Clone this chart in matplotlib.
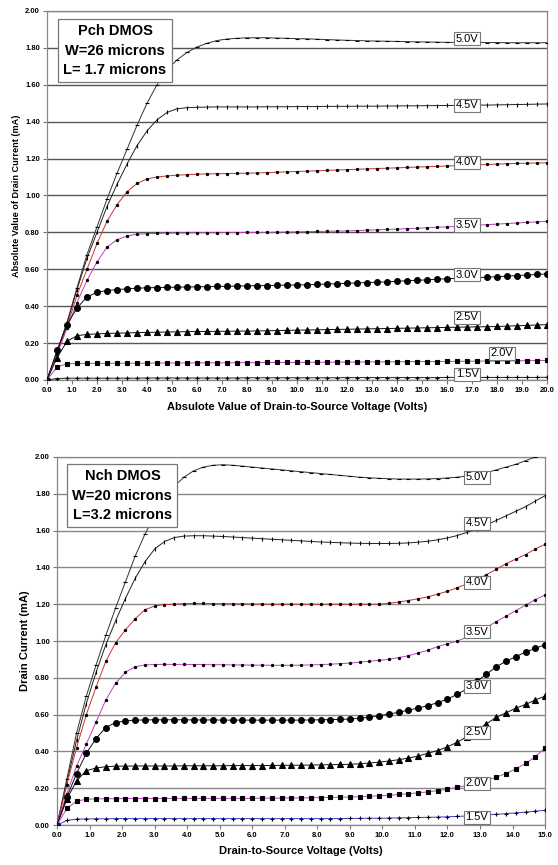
"""Pch / Nch DMOS output characteristics (Id vs Vds at several Vgs)."""
import numpy as np
import matplotlib
matplotlib.use("Agg")
import matplotlib.pyplot as plt
plt.rcParams["text.parse_math"] = False
plt.rcParams["font.family"] = ["Liberation Sans", "DejaVu Sans"]

# ---- Pch DMOS: |Vds| sweep 0..20 V, step 0.4 V ----
VDS_P = np.round(np.arange(0, 20.01, 0.4), 1)
VGS = ["5.0V", "4.5V", "4.0V", "3.5V", "3.0V", "2.5V", "2.0V", "1.5V"]

P_50 = [0, .15, .31, .50, .68, .83, .98, 1.12, 1.25, 1.38,
        1.50, 1.60, 1.68, 1.735, 1.775, 1.805, 1.825, 1.84, 1.848, 1.852,
        1.855, 1.855, 1.855, 1.853, 1.852, 1.85, 1.849, 1.847, 1.845, 1.843,
        1.841, 1.84, 1.838, 1.837, 1.836, 1.835, 1.834, 1.833, 1.832, 1.831,
        1.83, 1.83, 1.83, 1.829, 1.829, 1.829, 1.828, 1.828, 1.828, 1.828,
        1.828]
P_45 = [0, .15, .31, .49, .66, .80, .94, 1.06, 1.17, 1.27,
        1.35, 1.41, 1.45, 1.47, 1.476, 1.478, 1.479, 1.48, 1.48, 1.48,
        1.48, 1.48, 1.481, 1.481, 1.481, 1.482, 1.482, 1.482, 1.483, 1.483,
        1.483, 1.484, 1.484, 1.484, 1.485, 1.485, 1.486, 1.486, 1.487, 1.487,
        1.488, 1.488, 1.489, 1.49, 1.49, 1.491, 1.492, 1.493, 1.494, 1.495,
        1.496]
P_40 = [0, .14, .29, .46, .60, .74, .86, .95, 1.02, 1.065,
        1.09, 1.10, 1.106, 1.11, 1.113, 1.115, 1.117, 1.118, 1.119, 1.12,
        1.121, 1.122, 1.124, 1.126, 1.128, 1.13, 1.132, 1.134, 1.136, 1.138,
        1.14, 1.142, 1.144, 1.146, 1.148, 1.15, 1.152, 1.154, 1.156, 1.158,
        1.16, 1.162, 1.164, 1.166, 1.168, 1.17, 1.172, 1.174, 1.175, 1.176,
        1.177]
P_35 = [0, .14, .28, .42, .54, .64, .72, .76, .78, .79,
        .793, .795, .796, .797, .797, .798, .798, .798, .799, .799,
        .80, .80, .80, .801, .802, .803, .804, .805, .806, .807,
        .808, .81, .812, .814, .816, .818, .82, .822, .825, .828,
        .83, .833, .836, .839, .842, .845, .848, .851, .854, .857,
        .86]
P_30 = [0, .16, .30, .39, .45, .475, .485, .49, .494, .497,
        .50, .501, .502, .503, .504, .505, .506, .507, .508, .509,
        .51, .511, .512, .513, .514, .515, .516, .518, .52, .522,
        .524, .526, .528, .53, .532, .535, .538, .54, .543, .546,
        .549, .551, .553, .555, .557, .56, .563, .566, .569, .572,
        .575]
P_25 = [0, .12, .21, .24, .247, .25, .252, .254, .255, .257,
        .258, .259, .26, .261, .262, .263, .263, .264, .264, .265,
        .265, .266, .267, .268, .269, .27, .271, .272, .273, .274,
        .275, .276, .277, .278, .279, .28, .281, .282, .283, .284,
        .285, .286, .287, .288, .289, .29, .292, .294, .296, .298,
        .30]
P_20 = [0, .07, .088, .09, .09, .09, .09, .091, .091, .091,
        .091, .092, .092, .092, .092, .093, .093, .093, .093, .094,
        .094, .094, .095, .095, .095, .095, .096, .096, .096, .097,
        .097, .097, .098, .098, .098, .099, .099, .10, .10, .10,
        .101, .101, .102, .102, .103, .103, .104, .104, .105, .105,
        .106]
P_15 = [0, .008, .01, .01, .01, .01, .01, .01, .01, .01,
        .011, .011, .011, .011, .011, .011, .011, .011, .011, .011,
        .012, .012, .012, .012, .012, .012, .012, .012, .012, .012,
        .013, .013, .013, .013, .013, .013, .013, .013, .013, .013,
        .014, .014, .014, .014, .014, .014, .014, .014, .014, .014,
        .015]

# label anchor points (Vds, Id) for the Pch plot
P_LAB_X = [16.8, 16.8, 16.8, 16.8, 16.8, 16.8, 18.2, 16.8]
P_LAB_Y = [1.85, 1.49, 1.18, 0.84, 0.57, 0.34, 0.146, 0.032]

# ---- Nch DMOS: Vds sweep 0..15 V, step 0.3 V ----
VDS_N = np.round(np.arange(0, 15.01, 0.3), 1)

N_50 = [0, .25, .50, .70, .87, 1.03, 1.18, 1.32, 1.46, 1.58,
        1.68, 1.77, 1.84, 1.89, 1.925, 1.945, 1.955, 1.958, 1.955, 1.95,
        1.945, 1.94, 1.935, 1.93, 1.925, 1.92, 1.915, 1.91, 1.905, 1.90,
        1.895, 1.89, 1.887, 1.884, 1.882, 1.88, 1.88, 1.88, 1.881, 1.883,
        1.886, 1.89, 1.897, 1.905, 1.915, 1.93, 1.945, 1.96, 1.98, 2.0,
        2.03]
N_45 = [0, .23, .46, .66, .83, .98, 1.11, 1.23, 1.34, 1.43,
        1.50, 1.54, 1.562, 1.57, 1.572, 1.572, 1.57, 1.568, 1.565, 1.562,
        1.559, 1.556, 1.553, 1.55, 1.547, 1.544, 1.541, 1.538, 1.536, 1.534,
        1.532, 1.531, 1.53, 1.53, 1.53, 1.531, 1.533, 1.537, 1.542, 1.55,
        1.56, 1.573, 1.59, 1.61, 1.632, 1.655, 1.68, 1.705, 1.73, 1.76,
        1.79]
N_40 = [0, .22, .42, .60, .75, .89, .99, 1.06, 1.12, 1.17,
        1.19, 1.198, 1.20, 1.203, 1.204, 1.204, 1.203, 1.203, 1.202, 1.202,
        1.201, 1.201, 1.20, 1.20, 1.20, 1.20, 1.20, 1.20, 1.20, 1.20,
        1.20, 1.20, 1.20, 1.20, 1.205, 1.212, 1.22, 1.23, 1.24, 1.255,
        1.27, 1.29, 1.31, 1.335, 1.36, 1.39, 1.42, 1.445, 1.47, 1.50,
        1.525]
N_35 = [0, .17, .32, .44, .56, .68, .77, .83, .86, .87,
        .872, .873, .873, .873, .872, .872, .871, .871, .87, .87,
        .869, .869, .868, .868, .868, .869, .87, .872, .874, .877,
        .88, .885, .89, .895, .90, .91, .92, .935, .95, .97,
        .985, 1.0, 1.02, 1.045, 1.075, 1.105, 1.135, 1.165, 1.195, 1.225,
        1.25]
N_30 = [0, .15, .28, .39, .47, .53, .557, .566, .57, .571,
        .572, .572, .572, .572, .571, .571, .571, .57, .57, .57,
        .57, .57, .57, .57, .57, .57, .571, .572, .573, .574,
        .576, .58, .586, .594, .603, .613, .624, .636, .649, .665,
        .685, .71, .74, .78, .82, .86, .89, .915, .94, .96,
        .98]
N_25 = [0, .14, .24, .295, .31, .317, .32, .32, .321, .321,
        .321, .321, .321, .322, .322, .322, .322, .322, .323, .323,
        .323, .323, .324, .324, .325, .325, .326, .327, .328, .329,
        .33, .333, .337, .342, .348, .355, .364, .375, .39, .405,
        .425, .45, .48, .515, .55, .585, .61, .635, .655, .68,
        .70]
N_20 = [0, .09, .13, .14, .142, .143, .143, .144, .144, .144,
        .144, .144, .145, .145, .145, .145, .145, .145, .145, .145,
        .145, .146, .146, .146, .147, .147, .148, .149, .15, .151,
        .152, .154, .156, .159, .162, .166, .17, .175, .18, .187,
        .195, .205, .215, .228, .243, .26, .28, .305, .335, .37,
        .42]
N_15 = [0, .025, .032, .033, .034, .034, .035, .035, .035, .035,
        .035, .035, .035, .035, .035, .035, .035, .035, .035, .035,
        .035, .035, .035, .035, .035, .035, .035, .035, .035, .035,
        .036, .036, .037, .037, .038, .039, .04, .041, .042, .043,
        .045, .047, .049, .052, .055, .058, .062, .066, .07, .075,
        .08]

N_LAB_X = [12.9] * 8
N_LAB_Y = [1.89, 1.64, 1.32, 1.05, 0.755, 0.505, 0.228, 0.043]

# line colour, marker, marker size for each Vgs curve
STYLES = [
    ("#333333", "_", 3.0),
    ("#222222", "|", 3.5),
    ("#d03030", "o", 1.6),
    ("#c040c0", "o", 1.6),
    ("#111111", "o", 4.2),
    ("#111111", "^", 4.0),
    ("#c040c0", "s", 2.2),
    ("#3a3ad0", "+", 2.8),
]


def draw(ax, vds, curves, lab_x, lab_y, xmax, grid_col, styles):
    for (col, mk, ms), ids in zip(styles, curves):
        ax.plot(vds, ids, color=col, lw=0.7, marker=mk, ms=ms,
                mfc="black", mec="black", mew=0.8, zorder=3)
    for name, x, y in zip(VGS, lab_x, lab_y):
        ax.text(x, y, name, ha="center", va="center", fontsize=8, zorder=5,
                bbox=dict(boxstyle="square,pad=0.14", fc="white", ec="#777777", lw=0.8))
    ax.set_xlim(0, xmax)
    ax.set_ylim(0, 2.0)
    ax.set_xticks(np.arange(0, xmax + 0.01, 1.0))
    ax.set_yticks(np.arange(0, 2.01, 0.2))
    ax.xaxis.set_major_formatter(matplotlib.ticker.FormatStrFormatter("%.1f"))
    ax.yaxis.set_major_formatter(matplotlib.ticker.FormatStrFormatter("%.2f"))
    ax.tick_params(labelsize=5.5, length=3, width=0.8, color="#777777", pad=2)
    for lab in ax.get_xticklabels() + ax.get_yticklabels():
        lab.set_fontweight("bold")
    ax.grid(axis="y", color=grid_col, lw=1.0, zorder=1)
    for sp in ax.spines.values():
        sp.set_color("#888888")
        sp.set_linewidth(0.9)


fig = plt.figure(figsize=(5.58, 8.65), dpi=100)

top_styles = STYLES[:7] + [("#222222", "+", 2.8)]
ax1 = fig.add_axes([0.0842, 0.5607, 0.8961, 0.4266])
draw(ax1, VDS_P, [P_50, P_45, P_40, P_35, P_30, P_25, P_20, P_15],
     P_LAB_X, P_LAB_Y, 20.0, "#555555", top_styles)
ax1.set_xlabel("Absulote Value of Drain-to-Source Voltage (Volts)",
               fontsize=8, fontweight="bold", labelpad=6)
ax1.set_ylabel("Absolute Value of Drain Current (mA)", fontsize=6.6,
               fontweight="bold", labelpad=3)
ax1.text(0.136, 0.892, "Pch DMOS\nW=26 microns\nL= 1.7 microns",
         transform=ax1.transAxes, ha="center", va="center", fontsize=10.5,
         fontweight="bold", linespacing=1.5, zorder=6,
         bbox=dict(boxstyle="square,pad=0.35", fc="white", ec="#777777", lw=0.9))

ax2 = fig.add_axes([0.1022, 0.0462, 0.8746, 0.4255])
draw(ax2, VDS_N, [N_50, N_45, N_40, N_35, N_30, N_25, N_20, N_15],
     N_LAB_X, N_LAB_Y, 15.0, "#888888", STYLES)
ax2.set_xlabel("Drain-to-Source Voltage (Volts)", fontsize=8,
               fontweight="bold", labelpad=5)
ax2.set_ylabel("Drain Current (mA)", fontsize=8, fontweight="bold", labelpad=4)
ax2.text(0.134, 0.895, "Nch DMOS\nW=20 microns\nL=3.2 microns",
         transform=ax2.transAxes, ha="center", va="center", fontsize=10.5,
         fontweight="bold", linespacing=1.5, zorder=6,
         bbox=dict(boxstyle="square,pad=0.35", fc="white", ec="#777777", lw=0.9))

fig.savefig("out.png", dpi=100)
